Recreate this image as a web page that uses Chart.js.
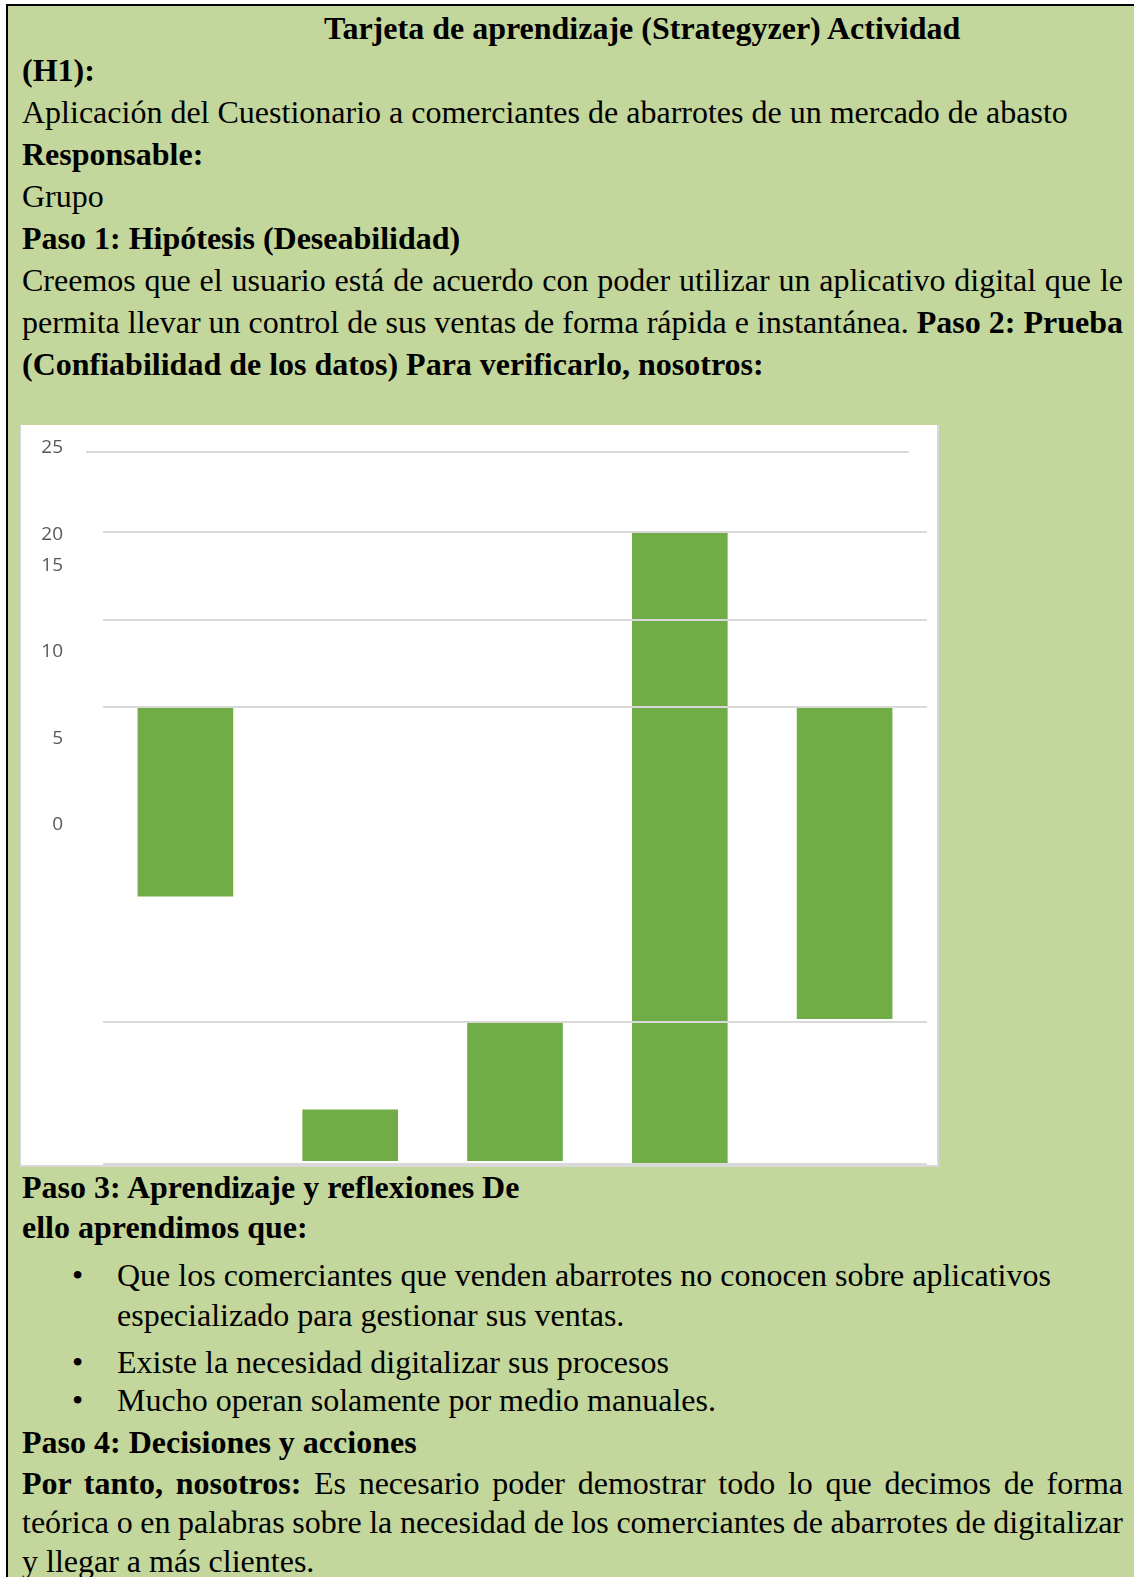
<!DOCTYPE html>
<html lang="es">
<head>
<meta charset="utf-8">
<title>Tarjeta de aprendizaje</title>
<script src="https://cdn.jsdelivr.net/npm/chart.js@4.4.1/dist/chart.umd.min.js"></script>
<style>
  html, body { margin: 0; padding: 0; background: #fff; }
  body { width: 1134px; height: 1577px; overflow: hidden; position: relative;
         font-family: "Liberation Serif", "Times New Roman", serif; font-size: 32px; color: #000; }
  .card { position: absolute; left: 6px; top: 4px; width: 1200px; height: 1600px;
          background: #c3d69b; border-left: 2px solid #000; border-top: 2px solid #000; }
  .ln { position: absolute; left: 22px; width: 1101px; height: 42px; line-height: 42px; white-space: nowrap; }
  .j { white-space: normal; text-align: justify; text-align-last: justify; word-spacing: -3px; }
  .bul { left: 117px; width: 1006px; }
  .dot { position: absolute; left: -45px; }
  .chartbox { position: absolute; left: 20px; top: 425px; width: 916px; height: 740px; background: #fff;
              border-left: 1px solid #d9d9d9; border-right: 2px solid #d9d9d9; border-bottom: 2px solid #d9d9d9; }
  .chartbox canvas { display: block; }
</style>
</head>
<body>
<div class="card"></div>

<div class="ln" style="top:7px; left:324px; width:780px;"><b>Tarjeta de aprendizaje (Strategyzer) Actividad</b></div>
<div class="ln" style="top:49px;"><b>(H1):</b></div>
<div class="ln" style="top:91px;">Aplicación del Cuestionario a comerciantes de abarrotes de un mercado de abasto</div>
<div class="ln" style="top:133px;"><b>Responsable:</b></div>
<div class="ln" style="top:175px;">Grupo</div>
<div class="ln" style="top:217px;"><b>Paso 1: Hipótesis (Deseabilidad)</b></div>
<div class="ln j" style="top:259px;">Creemos que el usuario está de acuerdo con poder utilizar un aplicativo digital que le</div>
<div class="ln j" style="top:301px;">permita llevar un control de sus ventas de forma rápida e instantánea. <b>Paso 2: Prueba</b></div>
<div class="ln" style="top:343px;"><b>(Confiabilidad de los datos) Para verificarlo, nosotros:</b></div>

<div class="chartbox"><canvas id="chart" width="916" height="740"></canvas></div>

<div class="ln" style="top:1166px;"><b>Paso 3: Aprendizaje y reflexiones De</b></div>
<div class="ln" style="top:1206px;"><b>ello aprendimos que:</b></div>
<div class="ln bul" style="top:1254px;"><span class="dot">•</span>Que los comerciantes que venden abarrotes no conocen sobre aplicativos</div>
<div class="ln bul" style="top:1294px;">especializado para gestionar sus ventas.</div>
<div class="ln bul" style="top:1341px;"><span class="dot">•</span>Existe la necesidad digitalizar sus procesos</div>
<div class="ln bul" style="top:1379px;"><span class="dot">•</span>Mucho operan solamente por medio manuales.</div>
<div class="ln" style="top:1421px;"><b>Paso 4: Decisiones y acciones</b></div>
<div class="ln j" style="top:1462px;"><b>Por tanto, nosotros:</b> Es necesario poder demostrar todo lo que decimos de forma</div>
<div class="ln j" style="top:1501px;">teórica o en palabras sobre la necesidad de los comerciantes de abarrotes de digitalizar</div>
<div class="ln" style="top:1540px;">y llegar a más clientes.</div>

<script>
// bars (floating: [bottom, top] in axis units)
const categories = ['1', '2', '3', '4', '5'];
const barRanges = [[9.4, 16], [0.12, 1.9], [0.12, 4.95], [0, 22.2], [5.1, 16]];

// where the light grid lines sit, and the odd top one
const gridValues = [0, 5, 16.05, 19.1, 22.2];
const topGridValue = 25;

// tick labels and where each one is printed
const tickLabels = ['25', '20', '15', '10', '5', '0'];
const tickLabelValues = [25.15, 22.1, 21.0, 18.0, 14.95, 11.9];

const gridColor = '#d9d9d9';

// top grid line is drawn a little to the left of the others
const topLine = {
  id: 'topLine',
  afterDraw(chart) {
    const area = chart.chartArea;
    const y = chart.scales.y.getPixelForValue(topGridValue);
    const ctx = chart.ctx;
    ctx.save();
    ctx.strokeStyle = gridColor;
    ctx.lineWidth = 2;
    ctx.beginPath();
    ctx.moveTo(area.left - 17, y);
    ctx.lineTo(area.right - 18, y);
    ctx.stroke();
    ctx.restore();
  }
};

// keep the axes from asking for extra room above / below the plot
function noPad(s, w) {
  s.width = w;
  s.paddingTop = 0;
  s.paddingBottom = 0;
}

new Chart(document.getElementById('chart'), {
  type: 'bar',
  data: {
    labels: categories,
    datasets: [{ data: barRanges, backgroundColor: '#70ad47', borderWidth: 0, barThickness: 95 }]
  },
  options: {
    responsive: false,
    animation: false,
    devicePixelRatio: 1,
    layout: { padding: { top: 27, right: 10, bottom: 1, left: 0 } },
    plugins: { legend: { display: false }, tooltip: { enabled: false } },
    scales: {
      x: { display: false },
      y: {
        min: 0, max: 25,
        afterBuildTicks: s => { s.ticks = gridValues.map(v => ({ value: v })); },
        afterFit: s => noPad(s, 0),
        ticks: { display: false },
        grid: { color: gridColor, lineWidth: 2, drawTicks: false, z: 1 },
        border: { display: false }
      },
      yLabels: {
        position: 'left',
        min: 0, max: 25,
        afterBuildTicks: s => { s.ticks = tickLabelValues.map(v => ({ value: v })); },
        afterFit: s => noPad(s, 82),
        ticks: {
          autoSkip: false,
          padding: 40,
          color: '#595959',
          font: { family: '"Open Sans", sans-serif', size: 19 },
          callback: (v, i) => tickLabels[i]
        },
        grid: { display: false, drawTicks: false },
        border: { display: false }
      }
    }
  },
  plugins: [topLine]
});
</script>
</body>
</html>
